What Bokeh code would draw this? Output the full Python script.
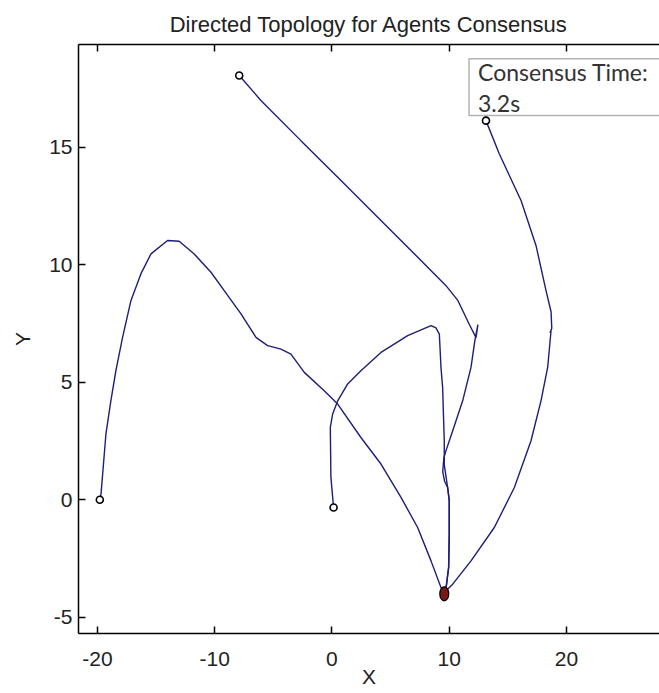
from bokeh.plotting import figure
from bokeh.models import Range1d, LinearAxis, BoxAnnotation, Label, FixedTicker
from bokeh.embed import file_html
from bokeh.resources import INLINE

# ---- data ----
agent1_x = [-19.8, -19.7, -19.28, -18.86, -18.43, -17.86, -17.15, -16.30, -15.44, -14.02, -13.03,
            -11.75, -10.32, -9.19, -7.76, -6.48, -5.49, -4.35, -3.50, -2.36, -0.66, 0.49, 2.47,
            4.18, 5.89, 7.31, 8.45, 9.30, 9.58]
agent1_y = [0.0, 0.24, 2.8, 4.21, 5.49, 6.91, 8.47, 9.61, 10.46, 11.03, 11.0,
            10.46, 9.68, 8.90, 7.91, 6.91, 6.56, 6.41, 6.20, 5.42, 4.64, 4.07, 2.65,
            1.52, 0.10, -1.18, -2.60, -3.73, -3.95]

agent2_x = [-7.91, -6.06, -2.65, 0.77, 4.18, 7.17, 9.73, 10.75, 11.69, 12.29, 12.45, 12.2,
            11.86, 11.15, 10.30, 9.73, 9.55, 9.45, 9.6, 9.87, 10.0, 10.0, 9.95, 9.75, 9.6]
agent2_y = [18.05, 16.99, 15.28, 13.58, 11.88, 10.39, 9.11, 8.47, 7.49, 6.90, 7.45, 6.8,
            5.63, 4.21, 2.94, 2.09, 1.8, 1.2, 0.8, 0.52, -0.04, -1.46, -2.88, -3.73, -3.98]

agent3_x = [13.14, 13.42, 14.27, 16.13, 17.41, 18.26, 18.69, 18.75, 18.6, 18.69, 18.40,
            17.83, 16.98, 15.56, 13.85, 11.86, 10.30, 9.73, 9.6]
agent3_y = [16.13, 15.78, 14.72, 12.73, 10.81, 8.90, 8.0, 7.3, 7.1, 7.2, 5.63,
            4.21, 2.51, 0.52, -1.18, -2.60, -3.59, -3.87, -3.98]

agent4_x = [0.14, -0.09, -0.14, 0.06, 0.49, 1.34, 2.47, 4.18, 6.46, 8.45, 8.87, 9.16,
            9.30, 9.44, 9.58, 9.58, 9.87, 10.01, 10.01, 9.96, 9.73, 9.6]
agent4_y = [-0.33, 0.95, 3.08, 3.65, 4.21, 4.93, 5.49, 6.27, 6.98, 7.41, 7.31, 7.05,
            5.63, 4.78, 2.51, 1.48, 0.52, -0.04, -1.46, -2.88, -3.73, -3.98]

consensus_x = [9.58]
consensus_y = [-4.0]

x_ticks = [-20, -10, 0, 10, 20]
y_ticks = [-5, 0, 5, 10, 15]

title_text = "Directed Topology for Agents Consensus"
x_label = "X"
y_label = "Y"
box_line1 = "Consensus Time:"
box_line2 = "3.2s"

# ---- styling ----
FONT = "'Liberation Sans', Arial, sans-serif"
LINE_COLOR = "#1e1e78"
TEXT_COLOR = "#222222"

p = figure(width=659, height=693, output_backend="svg", toolbar_location=None,
           x_range=Range1d(-21.62, 27.94), y_range=Range1d(-5.69, 19.37),
           min_border_left=78, min_border_right=0, min_border_top=44, min_border_bottom=60,
           x_axis_label=x_label, y_axis_label=y_label)

p.title.text = title_text
p.title.align = "center"
p.title.text_font = FONT
p.title.text_font_size = "22px"
p.title.text_font_style = "normal"
p.title.text_color = TEXT_COLOR
p.title.standoff = 15

p.outline_line_color = None
p.xgrid.visible = False
p.ygrid.visible = False
p.background_fill_color = "white"
p.border_fill_color = "white"

for ax in (p.xaxis[0], p.yaxis[0]):
    ax.axis_line_color = "black"
    ax.axis_line_width = 1.5
    ax.major_tick_line_color = "black"
    ax.major_tick_line_width = 1.5
    ax.major_tick_in = 7
    ax.major_tick_out = 0
    ax.minor_tick_line_color = None
    ax.major_label_text_font = FONT
    ax.major_label_text_font_size = "21px"
    ax.major_label_text_color = TEXT_COLOR
    ax.axis_label_text_font = FONT
    ax.axis_label_text_font_size = "21px"
    ax.axis_label_text_font_style = "normal"
    ax.axis_label_text_color = TEXT_COLOR

p.xaxis[0].ticker = FixedTicker(ticks=x_ticks)
p.yaxis[0].ticker = FixedTicker(ticks=y_ticks)
p.xaxis[0].major_label_overrides = {t: str(t) for t in x_ticks}
p.yaxis[0].major_label_overrides = {t: str(t) for t in y_ticks}
p.xaxis[0].major_label_standoff = 18
p.xaxis[0].axis_label_standoff = -4
p.yaxis[0].major_label_standoff = 6
p.yaxis[0].axis_label_standoff = 12

top_axis = LinearAxis(ticker=FixedTicker(ticks=x_ticks))
top_axis.axis_line_color = "black"
top_axis.axis_line_width = 1.5
top_axis.major_tick_line_color = "black"
top_axis.major_tick_line_width = 1.5
top_axis.major_tick_in = 7
top_axis.major_tick_out = 0
top_axis.minor_tick_line_color = None
top_axis.major_label_overrides = {t: "" for t in x_ticks}
top_axis.major_label_standoff = 0
p.add_layout(top_axis, "above")

# ---- trajectories ----
paths = [(agent1_x, agent1_y), (agent2_x, agent2_y), (agent3_x, agent3_y), (agent4_x, agent4_y)]
for xs, ys in paths:
    p.line(xs, ys, line_color=LINE_COLOR, line_width=1.4)

start_x = [xs[0] for xs, ys in paths]
start_y = [ys[0] for xs, ys in paths]
p.scatter(start_x, start_y, marker="circle", size=7, fill_color="white",
          line_color="black", line_width=1.6)

p.ellipse(x=consensus_x, y=consensus_y, width=9, height=14,
          width_units="screen", height_units="screen",
          fill_color="#7a1818", line_color="black", line_width=1.2)

# ---- text box ----
box = BoxAnnotation(left=11.69, right=40, top=18.76, bottom=16.35,
                    fill_color="white", fill_alpha=1.0,
                    line_color="black", line_width=1.5)
p.add_layout(box)
p.add_layout(Label(x=12.46, y=18.18, text=box_line1, text_baseline="middle",
                   text_font="Lato", text_font_size="23px", text_color="#333333"))
p.add_layout(Label(x=12.46, y=16.90, text=box_line2, text_baseline="middle",
                   text_font="Lato", text_font_size="23px", text_color="#333333"))

open("out.html", "w").write(file_html(p, INLINE))
